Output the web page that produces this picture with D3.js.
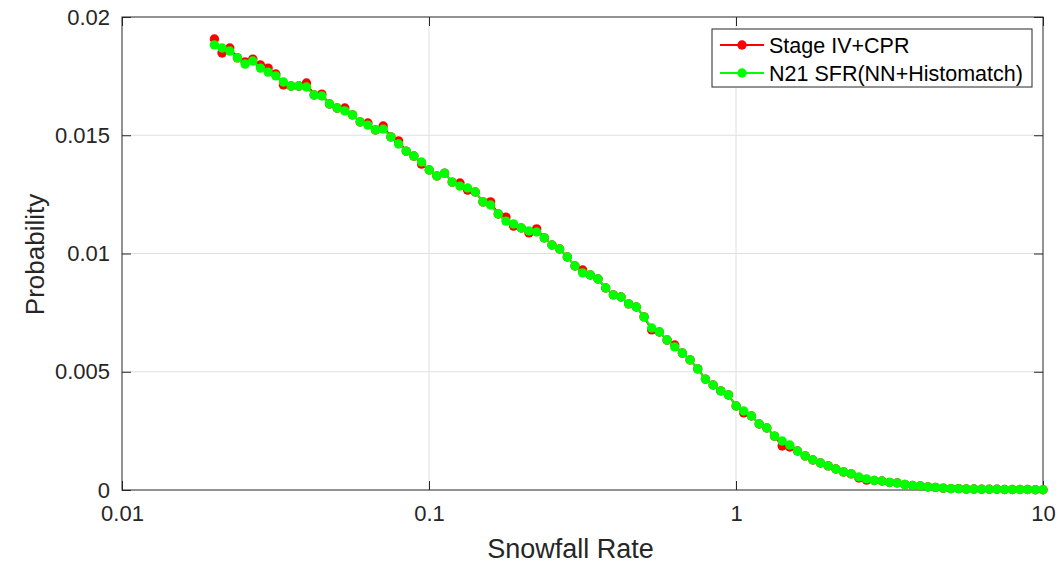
<!DOCTYPE html>
<html>
<head>
<meta charset="utf-8">
<script src="https://cdn.jsdelivr.net/npm/d3@7"></script>
<style>
  body { margin: 0; background: #fff; }
  svg { display: block; font-family: 'Liberation Sans', Arial, sans-serif; }
</style>
</head>
<body>
<svg id="chart" width="1060" height="564"></svg>
<script>
// snowfall rate bins (log spaced)
var snowfallRate = [
  0.02, 0.02118, 0.02244, 0.02377, 0.02518, 0.02667, 0.02825, 0.02992, 0.03169, 0.03357,
  0.03556, 0.03766, 0.03989, 0.04226, 0.04476, 0.04741, 0.05022, 0.05319, 0.05635, 0.05968,
  0.06322, 0.06696, 0.07093, 0.07513, 0.07958, 0.08429, 0.08929, 0.09457, 0.1002, 0.1061,
  0.1124, 0.1190, 0.1261, 0.1336, 0.1415, 0.1499, 0.1587, 0.1681, 0.1781, 0.1886,
  0.1998, 0.2117, 0.2242, 0.2375, 0.2515, 0.2664, 0.2822, 0.2989, 0.3166, 0.3354,
  0.3553, 0.3763, 0.3986, 0.4222, 0.4472, 0.4737, 0.5018, 0.5315, 0.5630, 0.5963,
  0.6316, 0.6690, 0.7087, 0.7506, 0.7951, 0.8422, 0.8921, 0.9449, 1.001, 1.060,
  1.123, 1.190, 1.260, 1.335, 1.414, 1.497, 1.586, 1.680, 1.780, 1.885,
  1.997, 2.115, 2.240, 2.373, 2.513, 2.662, 2.820, 2.987, 3.164, 3.351,
  3.550, 3.760, 3.983, 4.218, 4.468, 4.733, 5.013, 5.310, 5.625, 5.958,
  6.311, 6.684, 7.080, 7.500, 7.944, 8.414, 8.913, 9.441, 10
];

var stageIV = [
  0.01907, 0.01848, 0.01869, 0.01827, 0.01810, 0.01822, 0.01797, 0.01784, 0.01759, 0.01713,
  0.01708, 0.01708, 0.01721, 0.01670, 0.01674, 0.01632, 0.01615, 0.01615, 0.01586, 0.01556,
  0.01552, 0.01522, 0.01539, 0.01493, 0.01476, 0.01433, 0.01412, 0.01378, 0.01353, 0.01328,
  0.01340, 0.01302, 0.01298, 0.01268, 0.01260, 0.01218, 0.01218, 0.01167, 0.01154, 0.01116,
  0.01108, 0.01087, 0.01104, 0.01066, 0.01036, 0.01019, 0.00985, 0.00947, 0.00930, 0.00909,
  0.00892, 0.00854, 0.00825, 0.00816, 0.00787, 0.00774, 0.00732, 0.00677, 0.00668, 0.00634,
  0.00613, 0.00579, 0.00550, 0.00512, 0.00469, 0.00444, 0.00419, 0.00402, 0.00355, 0.00326,
  0.00313, 0.00279, 0.00262, 0.00228, 0.00186, 0.00182, 0.00165, 0.00144, 0.00127, 0.00114,
  0.00102, 0.00089, 0.00076, 0.00068, 0.00051, 0.00042, 0.00040, 0.00038, 0.00032, 0.00030,
  0.00023, 0.00019, 0.00017, 0.00013, 0.00011, 0.00008, 0.00006, 0.00006, 0.00004, 0.00004,
  0.00003, 0.00003, 0.00003, 0.00002, 0.00002, 0.00002, 0.00002, 0.00001, 0.00001
];

var n21 = [
  0.01882, 0.01869, 0.01856, 0.01827, 0.01801, 0.01814, 0.01784, 0.01767, 0.01751, 0.01725,
  0.01708, 0.01708, 0.01704, 0.01670, 0.01666, 0.01632, 0.01615, 0.01603, 0.01586, 0.01556,
  0.01543, 0.01522, 0.01526, 0.01493, 0.01463, 0.01433, 0.01412, 0.01387, 0.01353, 0.01328,
  0.01340, 0.01302, 0.01285, 0.01277, 0.01260, 0.01218, 0.01205, 0.01167, 0.01137, 0.01125,
  0.01108, 0.01095, 0.01091, 0.01066, 0.01036, 0.01019, 0.00985, 0.00947, 0.00918, 0.00909,
  0.00892, 0.00854, 0.00825, 0.00816, 0.00787, 0.00774, 0.00732, 0.00685, 0.00668, 0.00634,
  0.00605, 0.00579, 0.00550, 0.00512, 0.00469, 0.00444, 0.00419, 0.00402, 0.00355, 0.00334,
  0.00313, 0.00279, 0.00262, 0.00228, 0.00207, 0.00190, 0.00165, 0.00144, 0.00127, 0.00114,
  0.00102, 0.00089, 0.00076, 0.00068, 0.00055, 0.00047, 0.00040, 0.00038, 0.00032, 0.00030,
  0.00023, 0.00019, 0.00017, 0.00013, 0.00011, 0.00008, 0.00006, 0.00006, 0.00004, 0.00004,
  0.00003, 0.00003, 0.00003, 0.00002, 0.00002, 0.00002, 0.00002, 0.00001, 0.00001
];

var xTicks = [0.01, 0.1, 1, 10];
var xTickLabels = ['0.01', '0.1', '1', '10'];
var yTicks = [0, 0.005, 0.01, 0.015, 0.02];
var yTickLabels = ['0', '0.005', '0.01', '0.015', '0.02'];

var seriesNames = ['Stage IV+CPR', 'N21 SFR(NN+Histomatch)'];
var seriesColors = ['#ff0000', '#00ff00'];

const margin = { top: 17, right: 17, bottom: 74, left: 122 };
const width = 1060 - margin.left - margin.right;
const height = 564 - margin.top - margin.bottom;
const tickLen = 9;
const axisColor = '#262626';

var svg = d3.select('#chart');
var g = svg
  .append('g')
  .attr('transform', 'translate(' + margin.left + ',' + margin.top + ')');

var x = d3.scaleLog().domain([0.01, 10]).range([0, width]);
var y = d3.scaleLinear().domain([0, 0.02]).range([height, 0]);

// grid
g.append('g')
  .selectAll('line')
  .data(xTicks.slice(1, -1))
  .enter()
  .append('line')
  .attr('x1', x)
  .attr('x2', x)
  .attr('y1', 0)
  .attr('y2', height)
  .attr('stroke', '#e0e0e0');
g.append('g')
  .selectAll('line')
  .data(yTicks.slice(1, -1))
  .enter()
  .append('line')
  .attr('y1', y)
  .attr('y2', y)
  .attr('x1', 0)
  .attr('x2', width)
  .attr('stroke', '#e0e0e0');

function xLabel(d) {
  return xTickLabels[xTicks.indexOf(d)];
}
function yLabel(d) {
  return yTickLabels[yTicks.indexOf(d)];
}

function styleAxis(sel) {
  sel.select('.domain').remove();
  sel.selectAll('line').attr('stroke', axisColor);
  sel
    .selectAll('text')
    .attr('fill', axisColor)
    .style('font-size', '22px')
    .style('font-family', "'Liberation Sans', Arial, sans-serif");
}

g.append('g')
  .attr('transform', 'translate(0,' + height + ')')
  .call(d3.axisBottom(x).tickValues(xTicks).tickFormat(xLabel).tickSize(-tickLen).tickPadding(15))
  .call(styleAxis);
g.append('g')
  .call(d3.axisTop(x).tickValues(xTicks).tickFormat('').tickSize(-tickLen))
  .call(styleAxis);
g.append('g')
  .call(d3.axisLeft(y).tickValues(yTicks).tickFormat(yLabel).tickSize(-tickLen).tickPadding(12))
  .call(styleAxis);
g.append('g')
  .attr('transform', 'translate(' + width + ',0)')
  .call(d3.axisRight(y).tickValues(yTicks).tickFormat('').tickSize(-tickLen))
  .call(styleAxis);

g.append('rect')
  .attr('width', width)
  .attr('height', height)
  .attr('fill', 'none')
  .attr('stroke', axisColor)
  .attr('stroke-width', 1);

// series
var allSeries = [stageIV, n21];
var line = d3
  .line()
  .x(function(d) { return x(d[0]); })
  .y(function(d) { return y(d[1]); });

allSeries.forEach(function(values, k) {
  var pts = d3.zip(snowfallRate, values);
  var sg = g.append('g').classed('series', true);
  sg.append('path')
    .datum(pts)
    .attr('d', line)
    .attr('fill', 'none')
    .attr('stroke', seriesColors[k])
    .attr('stroke-width', 2);
  sg.selectAll('circle')
    .data(pts)
    .enter()
    .append('circle')
    .attr('cx', function(d) { return x(d[0]); })
    .attr('cy', function(d) { return y(d[1]); })
    .attr('r', 4.7)
    .attr('fill', seriesColors[k]);
});

// axis titles
svg.append('text')
  .attr('x', margin.left + width / 2 - 12)
  .attr('y', 558)
  .attr('text-anchor', 'middle')
  .attr('fill', axisColor)
  .style('font-size', '27px')
  .text('Snowfall Rate');
svg.append('text')
  .attr('transform', 'translate(44,' + (margin.top + height / 2 + 1) + ') rotate(-90)')
  .attr('text-anchor', 'middle')
  .attr('fill', axisColor)
  .style('font-size', '26px')
  .text('Probability');

// legend
var legend = svg.append('g').attr('transform', 'translate(712,29)');
legend.append('rect')
  .attr('width', 320)
  .attr('height', 58)
  .attr('fill', '#fff')
  .attr('stroke', axisColor);
var items = legend
  .selectAll('.legend-item')
  .data(seriesNames)
  .enter()
  .append('g')
  .classed('legend-item', true)
  .attr('transform', function(d, i) { return 'translate(0,' + (16 + i * 28) + ')'; });
items.append('line')
  .attr('x1', 8)
  .attr('x2', 52)
  .attr('stroke', function(d, i) { return seriesColors[i]; })
  .attr('stroke-width', 2);
items.append('circle')
  .attr('cx', 30)
  .attr('r', 4.7)
  .attr('fill', function(d, i) { return seriesColors[i]; });
items.append('text')
  .attr('x', 57)
  .attr('dy', '0.35em')
  .attr('fill', '#000')
  .style('font-size', '21.5px')
  .text(function(d) { return d; });
</script>
</body>
</html>
